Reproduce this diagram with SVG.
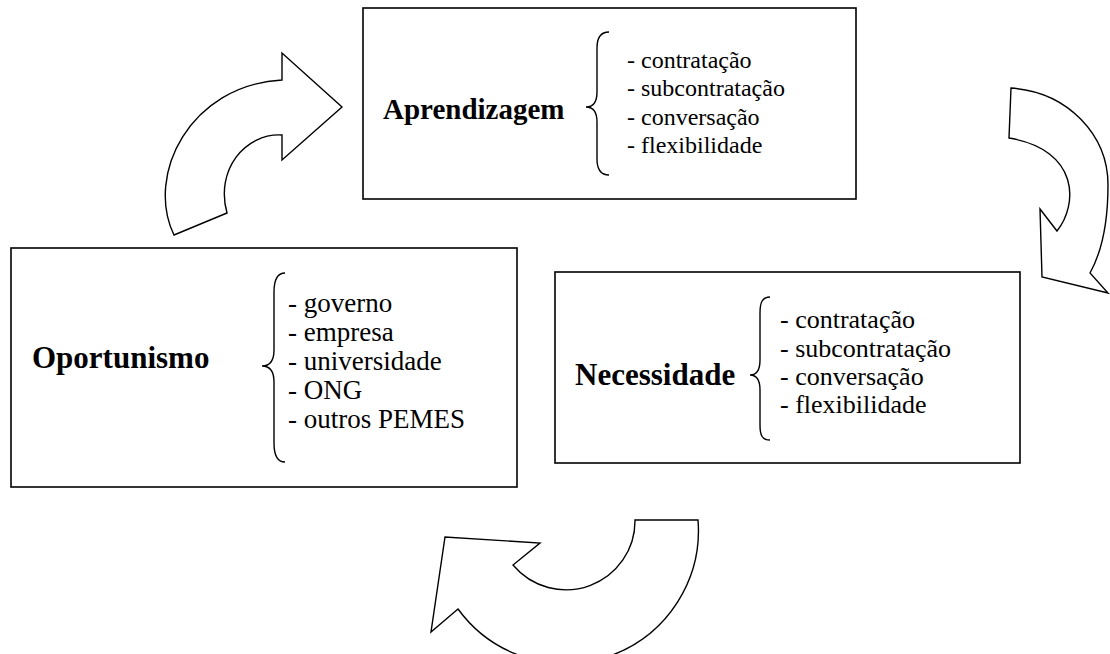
<svg xmlns="http://www.w3.org/2000/svg" width="1110" height="654" viewBox="0 0 1110 654">
  <style>
    .box { fill: #ffffff; stroke: #000000; stroke-width: 1.6; }
    .brace { fill: none; stroke: #000000; stroke-width: 1.4; }
    .arrow { fill: #ffffff; stroke: #000000; stroke-width: 1.4; stroke-linejoin: miter; }
  </style>
  <rect width="1110" height="654" fill="#ffffff"/>

  <!-- curved block arrows forming the cycle -->
  <g id="connectors">
    <path id="arrow-oportunismo-aprendizagem" class="arrow"
          d="M174,235 C145,175 190,85 282,80 L282,53 L342,107 L282,160 L282,135 C245,133 215,170 227,213 Z"/>
    <path id="arrow-aprendizagem-necessidade" class="arrow"
          d="M1011,88 C1068,92 1108,135 1108,185 C1108,225 1100,255 1090,273 L1108,293 L1042,277 L1040,209 L1057,231 C1078,205 1080,150 1009,138 Z"/>
    <path id="arrow-necessidade-oportunismo" class="arrow"
          d="M635,520 L698,520 A133,133 0 0 1 458,609 L431,632 L445,537 L540,543 L513,565 A69,69 0 0 0 635,520 Z"/>
  </g>

  <g font-family="'Liberation Serif', 'Times New Roman', serif" fill="#000000">
    <g id="node-aprendizagem">
      <rect class="box" x="363" y="8" width="493" height="191"/>
      <text x="383" y="119" font-size="29" font-weight="bold">Aprendizagem</text>
      <path class="brace" d="M609,32 C600,32 597,38 597,48 L597,92 C597,102 593,107 586,107 C593,107 597,112 597,122 L597,159 C597,169 600,175 609,175"/>
      <g font-size="24">
        <text x="627" y="68">- contratação</text>
        <text x="627" y="96">- subcontratação</text>
        <text x="627" y="125">- conversação</text>
        <text x="627" y="153">- flexibilidade</text>
      </g>
    </g>

    <g id="node-oportunismo">
      <rect class="box" x="11" y="248" width="506" height="239"/>
      <text x="32" y="368" font-size="31" font-weight="bold">Oportunismo</text>
      <path class="brace" d="M285,273 C277,273 274,280 274,292 L274,350 C274,360 270,366 262,366 C270,366 274,372 274,382 L274,443 C274,455 277,462 285,462"/>
      <g font-size="27">
        <text x="288" y="312">- governo</text>
        <text x="288" y="341">- empresa</text>
        <text x="288" y="370">- universidade</text>
        <text x="288" y="399">- ONG</text>
        <text x="288" y="428">- outros PEMES</text>
      </g>
    </g>

    <g id="node-necessidade">
      <rect class="box" x="555" y="272" width="465" height="191"/>
      <text x="575" y="385" font-size="31" font-weight="bold">Necessidade</text>
      <path class="brace" d="M770,297 C762,297 760,303 760,313 L760,360 C760,370 756,375 750,375 C756,375 760,380 760,390 L760,425 C760,435 762,440 770,440"/>
      <g font-size="26">
        <text x="780" y="328">- contratação</text>
        <text x="780" y="357">- subcontratação</text>
        <text x="780" y="385">- conversação</text>
        <text x="780" y="413">- flexibilidade</text>
      </g>
    </g>
  </g>
</svg>
